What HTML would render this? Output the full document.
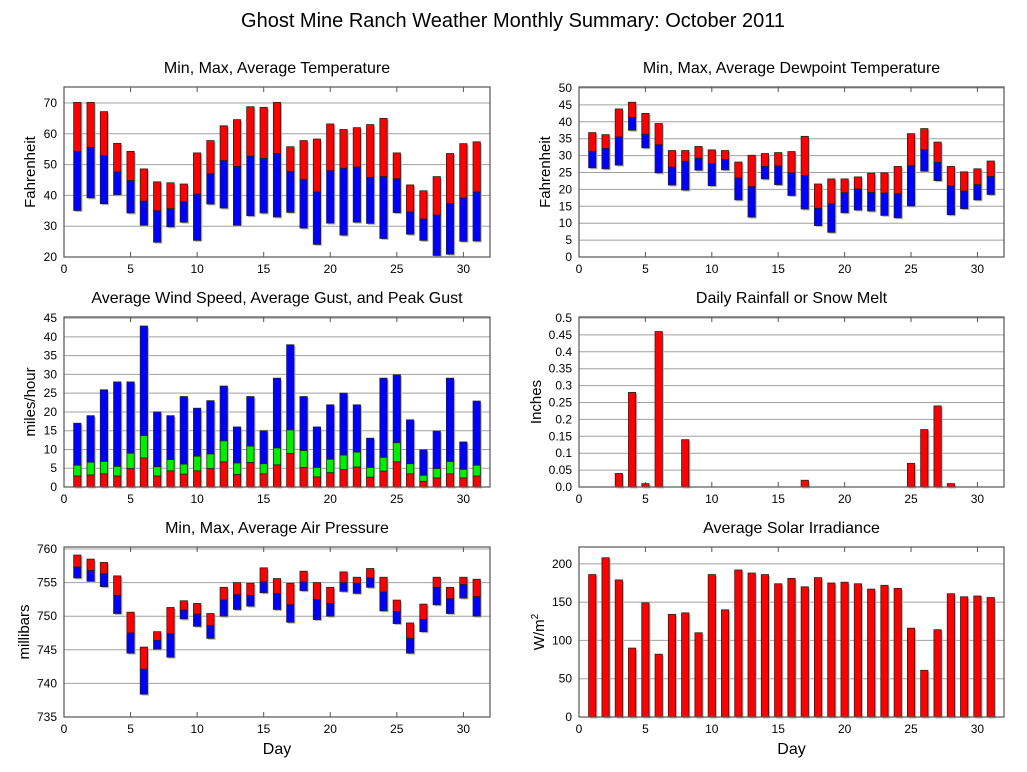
<!DOCTYPE html>
<html><head><meta charset="utf-8"><style>
body{margin:0;background:#fff;}
svg{display:block;font-family:"Liberation Sans",sans-serif;}
</style></head><body>
<svg id="chart" width="1027" height="772" viewBox="0 0 1027 772">
<text x="513" y="27" font-size="20" text-anchor="middle">Ghost Mine Ranch Weather Monthly Summary: October 2011</text>
</svg>
<script>
const days=[1,2,3,4,5,6,7,8,9,10,11,12,13,14,15,16,17,18,19,20,21,22,23,24,25,26,27,28,29,30,31];
const tempMax=[70.2,70.2,67.2,56.9,54.3,48.6,44.4,44.1,43.7,53.8,57.8,62.6,64.6,68.8,68.6,70.2,55.8,57.8,58.3,63.2,61.4,62,63,65,53.8,43.4,41.5,46.1,53.6,56.8,57.4];
const tempAvg=[54.3,55.6,52.9,47.6,44.8,38.1,35,35.7,37.9,40.4,47,51.3,49.4,52.7,52,53.6,47.7,45.1,41.1,48,48.8,49.2,45.8,46.1,45.4,34.6,32.3,33.6,37.4,39.2,41.1];
const tempMin=[35.1,39.2,37.3,40.2,34.3,30.3,24.8,29.8,31.3,25.4,37.2,35.9,30.3,33.4,34.3,33,34.5,29.4,24.1,31,27.1,31.3,30.9,26,34.4,27.4,25.4,20.5,20.9,25.1,25.2];
const dewMax=[36.8,36.2,43.8,45.8,42.5,39.5,31.5,31.5,32.7,31.7,31.5,28.1,30.1,30.6,30.9,31.2,35.7,21.6,23.1,23.1,23.7,24.8,24.9,26.8,36.5,38,34,26.8,25.2,26.1,28.4];
const dewAvg=[31.2,32.1,35.5,41.3,36.3,33.2,26.6,28.3,29.2,27.6,28.8,23.4,20.8,26.8,26.9,24.9,24.1,14.4,15.7,19,20.1,19.1,18.9,18.7,27,31.7,28,21,19.5,21.4,23.8];
const dewMin=[26.4,26.1,27.2,37.5,32.3,24.9,21.3,19.8,25.7,21.1,25.8,16.9,11.8,23.1,21.4,18.2,14.2,9.3,7.3,13.1,13.9,13.6,12.3,11.6,15.1,25.4,22.6,12.5,14.3,16.9,18.5];
const windPeak=[17,19,25.9,28,28,42.9,20,19,24.1,21,23,26.9,16,24.1,15,29,37.9,24.1,16,21.9,25,21.9,13,29,29.9,17.9,9.9,14.9,29,12,22.9];
const windGust=[5.8,6.6,6.8,5.5,9,13.7,5.4,7.3,6.1,8.2,8.8,12.3,6.4,10.9,6.2,10.4,15.2,9.7,5.2,7.4,8.5,9.3,5.2,7.9,11.8,6.2,3.1,4.9,6.8,4.7,5.8];
const windAvg=[2.9,3.2,3.5,2.9,4.9,7.7,2.9,4.3,3.4,4.3,4.9,6.7,3.3,6.5,3.5,5.9,8.9,5.2,2.7,3.8,4.6,5.3,2.6,4.2,6.7,3.5,1.5,2.4,3.5,2.4,2.9];
const rain=[0,0,0.04,0.28,0.01,0.46,0,0.14,0,0,0,0,0,0,0,0,0.02,0,0,0,0,0,0,0,0.07,0.17,0.24,0.01,0,0,0];
const presMax=[759.1,758.5,758,756,750.6,745.4,747.7,751.3,752.3,751.9,750.4,754.3,755,754.9,757.2,755.6,754.9,756.7,755,754.3,756.6,755.8,757.1,755.8,752.4,749,751.8,755.8,754.3,755.8,755.5];
const presAvg=[757.3,756.8,756.3,753.1,747.5,742.1,746.4,747.4,750.9,750.3,748.6,752.4,753.2,753.1,755.1,753.4,751.7,755.1,752.5,751.9,755,754.9,755.7,753.6,750.7,746.7,749.5,754.3,752.6,754.7,752.9];
const presMin=[755.7,755.2,754.4,750.4,744.5,738.4,745.1,743.9,749.6,748.5,746.7,750,751,751.5,753.5,751,749.1,753.8,749.5,750,753.7,753.4,754.3,750.8,748.9,744.5,747.7,751.7,750.4,752.7,750];
const solar=[186,208,179,90,149,82,134,136,110,186,140,192,188,186,174,181,170,182,175,176,174,167,172,168,116,61,114,161,157,158,156];
const tempTicks=[20,30,40,50,60,70];
const dewTicks=[0,5,10,15,20,25,30,35,40,45,50];
const windTicks=[0,5,10,15,20,25,30,35,40,45];
const rainTicks=[0,0.05,0.1,0.15,0.2,0.25,0.3,0.35,0.4,0.45,0.5];
const presTicks=[735,740,745,750,755,760];
const solarTicks=[0,50,100,150,200];
const dayTicks=[0,5,10,15,20,25,30];

const svg=document.getElementById('chart');
const NS='http://www.w3.org/2000/svg';
function mk(tag,attrs,parent){const e=document.createElementNS(NS,tag);for(const k in attrs)e.setAttribute(k,attrs[k]);(parent||svg).appendChild(e);return e;}

function panel(p){
  const g=mk('g',{});
  
  
  const xs=d=>p.x0+(d/32)*(p.x1-p.x0);
  const ys=v=>p.y1-(v-p.ymin)/(p.ymax-p.ymin)*(p.y1-p.y0);
  // gridlines + y ticks
  p.yticks.forEach(t=>{
    const y=ys(t);
    if(t!==p.ymin){const l=mk('line',{x1:p.x0,x2:p.x1,y1:y,y2:y,stroke:'#a0a0a0','stroke-width':1},g);
      
      }
    const tx=mk('text',{x:p.x0-7,y:y+4,'font-size':12,'text-anchor':'end'},g);
    tx.textContent=p.fmt?p.fmt(t):t;
    
    
  });
  dayTicks.forEach(t=>{
    const x=xs(t);
    mk('line',{x1:x,x2:x,y1:p.y1,y2:p.y1-5,stroke:'#555'},g);
    mk('line',{x1:x,x2:x,y1:p.y0,y2:p.y0+5,stroke:'#555'},g);
    const tx=mk('text',{x:x,y:p.y1+16,'font-size':12,'text-anchor':'middle'},g);
    tx.textContent=t;
    
    
  });
  const bw=(p.x1-p.x0)/32*0.55;
  p.series.forEach(s=>{
    days.forEach((d,i)=>{
      const hi=s.hi[i], lo=s.lo?s.lo[i]:p.ymin;
      if(hi<=lo && !s.lo) return;
      const yt=ys(hi), yb=ys(lo);
      mk('rect',{x:xs(d)-bw/2+1.5,y:yt+1.5,width:bw,height:Math.max(yb-yt,0),fill:'#bbb'},g);
      const r=mk('rect',{x:xs(d)-bw/2,y:yt,width:bw,height:Math.max(yb-yt,0.5),fill:s.color,stroke:'#222','stroke-width':0.8},g);
      
      
    });
  });
  const fr=mk('rect',{x:p.x0,y:p.y0,width:p.x1-p.x0,height:p.y1-p.y0,fill:'none',stroke:'#555','stroke-width':1.2},g);
  
  
  const ti=mk('text',{x:(p.x0+p.x1)/2,y:p.y0-14,'font-size':16,'text-anchor':'middle'},g);
  ti.textContent=p.title;
  
  
  const cy=(p.y0+p.y1)/2;
  const yl=mk('text',{x:0,y:0,'font-size':15,'text-anchor':'middle',transform:`translate(${p.x0-p.ylOff},${cy}) rotate(-90)`},g);
  yl.innerHTML=p.ylabel;
  
  
  if(p.xlabel){
    const xl=mk('text',{x:(p.x0+p.x1)/2,y:754,'font-size':16,'text-anchor':'middle'},g);
    xl.textContent='Day';
    
    
  }
}
const L=[64,490],R=[579,1004];
panel({name:'temperature-panel',x0:L[0],x1:L[1],y0:87,y1:257,ymin:20,ymax:75.2,yticks:tempTicks,title:'Min, Max, Average Temperature',ylabel:'Fahrenheit',ylOff:29,
  series:[{label:'temp-max',hi:tempMax,lo:tempAvg,color:'#ff0000'},{label:'temp-avg',hi:tempAvg,lo:tempMin,color:'#0000ff'}]});
panel({name:'dewpoint-panel',x0:R[0],x1:R[1],y0:87,y1:257,ymin:0,ymax:50.3,yticks:dewTicks,title:'Min, Max, Average Dewpoint Temperature',ylabel:'Fahrenheit',ylOff:29,
  series:[{label:'dew-max',hi:dewMax,lo:dewAvg,color:'#ff0000'},{label:'dew-avg',hi:dewAvg,lo:dewMin,color:'#0000ff'}]});
panel({name:'wind-panel',x0:L[0],x1:L[1],y0:317,y1:487,ymin:0,ymax:45.3,yticks:windTicks,title:'Average Wind Speed, Average Gust, and Peak Gust',ylabel:'miles/hour',ylOff:29,
  series:[{label:'wind-peak',hi:windPeak,lo:windGust,color:'#0000ff'},{label:'wind-gust',hi:windGust,lo:windAvg,color:'#00ee00'},{label:'wind-avg',hi:windAvg,lo:null,color:'#ff0000'}]});
panel({name:'rainfall-panel',x0:R[0],x1:R[1],y0:317,y1:487,ymin:0,ymax:0.503,yticks:rainTicks,title:'Daily Rainfall or Snow Melt',ylabel:'Inches',ylOff:38,fmt:t=>t===0?'0.0':String(t).replace(/^0\./,'0.'),
  series:[{label:'rain',hi:rain,lo:null,color:'#ff0000'}]});
panel({name:'pressure-panel',x0:L[0],x1:L[1],y0:547,y1:717,ymin:735,ymax:760.3,yticks:presTicks,title:'Min, Max, Average Air Pressure',ylabel:'millibars',ylOff:35,xlabel:true,
  series:[{label:'pres-max',hi:presMax,lo:presAvg,color:'#ff0000'},{label:'pres-avg',hi:presAvg,lo:presMin,color:'#0000ff'}]});
panel({name:'solar-panel',x0:R[0],x1:R[1],y0:547,y1:717,ymin:0,ymax:222,yticks:solarTicks,title:'Average Solar Irradiance',ylabel:'W/m<tspan dy="-6" font-size="10">2</tspan>',ylOff:35,xlabel:true,
  series:[{label:'solar',hi:solar,lo:null,color:'#ff0000'}]});
</script>
</body></html>
